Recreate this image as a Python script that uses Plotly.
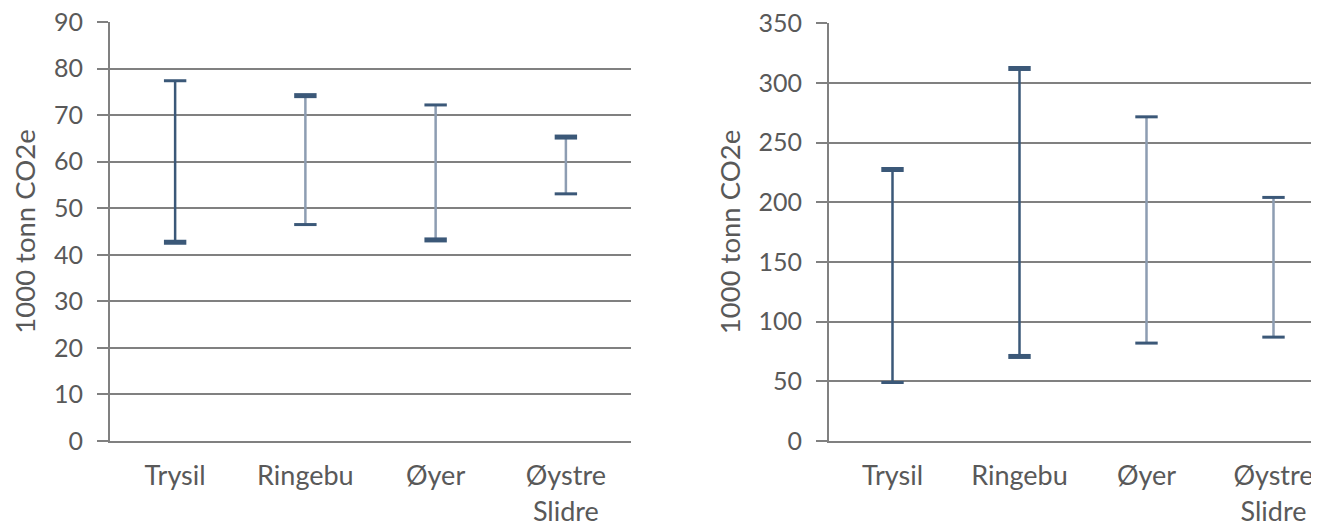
import plotly.graph_objects as go

categories = ["Trysil", "Ringebu", "Øyer", "Øystre<br>Slidre"]

left_low = [42.7, 46.5, 43.2, 53.1]
left_high = [77.4, 74.2, 72.2, 65.3]
right_low = [49, 70.8, 82, 87]
right_high = [227.4, 312, 271.5, 204]

left_ticks = [0, 10, 20, 30, 40, 50, 60, 70, 80, 90]
right_ticks = [0, 50, 100, 150, 200, 250, 300, 350]

y_title = "1000 tonn CO2e"

# styles (not data)
DARK = "#3b5878"
LIGHT = "#8d9db2"
GRID = "#808080"
TEXT = "#595959"
FONT = "Lato"

left_line_colors = [DARK, LIGHT, LIGHT, LIGHT]
right_line_colors = [DARK, DARK, LIGHT, LIGHT]
left_cap_w = [(5, 3), (3, 5), (5, 3), (3, 5)]   # (low, high)
right_cap_w = [(3, 5), (5, 5), (3, 3), (3, 3)]

fig = go.Figure()

def add_ranges(lows, highs, colors, capw, xa, ya):
    for i, c in enumerate(categories):
        fig.add_trace(go.Scatter(
            x=[c, c], y=[lows[i], highs[i]], mode="lines",
            line=dict(color=colors[i], width=2.5),
            xaxis=xa, yaxis=ya, showlegend=False, hoverinfo="skip"))
    xs, ys, ws = [], [], []
    for i, c in enumerate(categories):
        xs += [c, c]
        ys += [lows[i], highs[i]]
        ws += [capw[i][0], capw[i][1]]
    fig.add_trace(go.Scatter(
        x=xs, y=ys, mode="markers",
        marker=dict(symbol="line-ew", size=16, color=DARK,
                    line=dict(color=DARK, width=ws)),
        xaxis=xa, yaxis=ya, showlegend=False, hoverinfo="skip"))

add_ranges(left_low, left_high, left_line_colors, left_cap_w, "x", "y")
add_ranges(right_low, right_high, right_line_colors, right_cap_w, "x2", "y2")

# page is offset by the default 8px body margin
OFF = 8
W, H = 1319 - OFF, 524 - OFF

def fx(px):
    return (px - OFF) / W

def fy(py):
    return (H - (py - OFF)) / H

common_x = dict(type="category", showgrid=False, showline=True, linecolor=GRID,
                linewidth=2, ticks="", automargin=False, ticklabelstandoff=10,
                tickfont=dict(family=FONT, size=27, color=TEXT),
                categoryorder="array", categoryarray=categories, fixedrange=True)
common_y = dict(showgrid=True, gridcolor=GRID, gridwidth=2, showline=True,
                linecolor=GRID, linewidth=2, ticks="outside", ticklen=11,
                tickcolor=GRID, tickwidth=2, zeroline=False, automargin=False,
                ticklabelstandoff=9, ticklabeloverflow="allow",
                tickfont=dict(family=FONT, size=25, color=TEXT),
                title=dict(text=y_title, font=dict(family=FONT, size=27.5, color=TEXT),
                           standoff=10))

fig.update_layout(
    width=W, height=H, margin=dict(l=0, r=0, t=0, b=0, autoexpand=False),
    paper_bgcolor="white", plot_bgcolor="white", showlegend=False,
    xaxis=dict(common_x, domain=[fx(110), fx(631)], range=[-0.5, 3.5], anchor="y"),
    yaxis=dict(common_y, domain=[fy(441), fy(22)], range=[0, 90.02],
               tickvals=left_ticks, anchor="x"),
    xaxis2=dict(common_x, domain=[fx(829), 1.0], range=[-0.5, -0.5 + 490 / 127],
                anchor="y2"),
    yaxis2=dict(common_y, domain=[fy(441), fy(23)], range=[0, 350.08],
                tickvals=right_ticks, anchor="x2"),
)

fig.write_html("out.html")
